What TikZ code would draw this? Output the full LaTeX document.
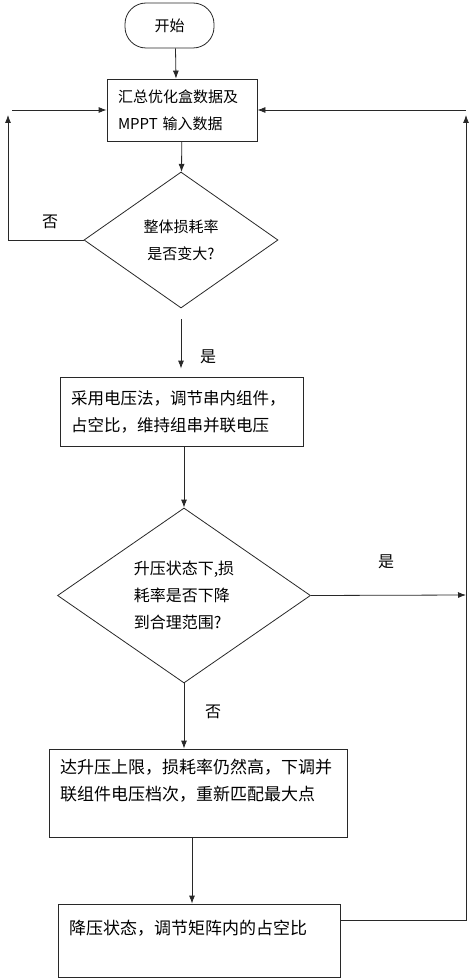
\documentclass[tikz,border=0pt]{standalone}
\usepackage{fontspec}
\setmainfont{Noto Sans CJK SC}
\usetikzlibrary{arrows.meta, shapes.geometric}
\definecolor{lineGray}{RGB}{40,40,40}

\begin{document}
\begin{tikzpicture}[x=1pt, y=-1pt,
  base/.style={draw=lineGray, line width=0.8pt, inner sep=0pt,
               font=\fontsize{15}{27}\selectfont},
  term/.style={base, rectangle, rounded corners=21pt,
               minimum width=89pt, minimum height=45pt},
  box/.style={base, rectangle, inner xsep=11pt, align=left},
  choice/.style={base, diamond},
  tag/.style={font=\fontsize{16}{20}\selectfont},
  arrow/.style={-{Latex[length=8pt, width=6pt]}, draw=lineGray, line width=0.8pt},
  link/.style={draw=lineGray, line width=0.8pt}
]
\useasboundingbox (0,0) rectangle (474,979);

% Start
\node[term] (start) at (169.5,25.5) {开始};
% Collect data
\node[box, text width=128pt, minimum height=62pt] (sum) at (182,110)
  {汇总优化盒数据及\\MPPT 输入数据};
% Total loss check
\node[choice, minimum width=194pt, minimum height=136pt, align=center] (loss) at (181,240)
  {整体损耗率\\是否变大?};
% Voltage method
\node[box, text width=221pt, minimum height=69pt, font=\fontsize{16.5}{27}\selectfont] (volt) at (181.5,411.5)
  {采用电压法，调节串内组件，\\占空比，维持组串并联电压};
% Boost check
\node[choice, minimum width=253pt, minimum height=175pt, align=left, font=\fontsize{16}{27}\selectfont] (boost) at (184,595.5)
  {升压状态下,损\\耗率是否下降\\到合理范围?};
% Boost limit
\node[box, text width=276pt, minimum height=88pt, font=\fontsize{17}{27}\selectfont] (limit) at (198,793)
  {达升压上限，损耗率仍然高，下调并\\联组件电压档次，重新匹配最大点\\\mbox{}};
% Buck state
\node[box, text width=260pt, minimum height=73pt, font=\fontsize{17}{27}\selectfont] (buck) at (199,940.5)
  {降压状态，调节矩阵内的占空比\\\mbox{}};

% loop corners
\coordinate (noUp) at (8,115);
\coordinate (noIn) at (12,110);
\coordinate (yesEnd) at (466,595);
\coordinate (backUp) at (466,115);
\coordinate (backIn) at (466,110);

\draw[arrow] ([xshift=6pt]start.south) -- ([xshift=-6pt]sum.north);
\draw[arrow] (sum) -- (loss);

% no: back to collect
\draw[arrow] (loss.west) -| (noUp);
\draw[arrow] (noIn) -- (sum.west);
\node[tag] (no1) at (50,222) {否};

% yes: voltage method
\draw[arrow, shorten <=11pt, shorten >=8pt] (loss.south) -- (loss.south |- volt.north);
\node[tag] (yes1) at (208,357) {是};
\draw[arrow] (volt.south -| boost.north) -- (boost.north);

% yes: back to collect
\draw[arrow] (boost.east) -- (yesEnd);
\node[tag] (yes2) at (386,562) {是};
\draw[arrow] ([yshift=20pt]buck.east) -| (backUp);
\draw[arrow] (backIn) -- (sum.east);

% no: limit then buck
\draw[arrow] (boost.south) -- (boost.south |- limit.north);
\node[tag] (no2) at (213,712) {否};
\draw[arrow] ([xshift=-6pt]limit.south) -- ([xshift=-7pt]buck.north);

\end{tikzpicture}
\end{document}
